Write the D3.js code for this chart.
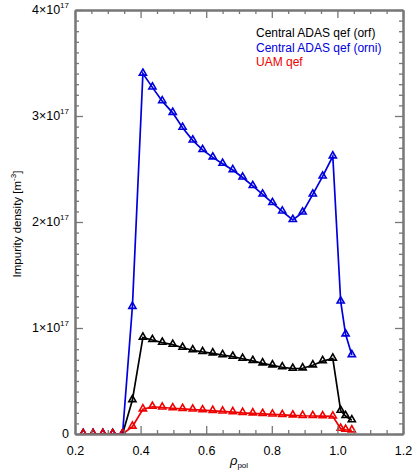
<!DOCTYPE html>
<html><head><meta charset="utf-8">
<script src="https://cdn.jsdelivr.net/npm/d3@7"></script>
<style>body{margin:0;background:#fff}svg{display:block;font-family:"Liberation Sans",Arial,sans-serif}</style>
</head><body><svg id="c" width="413" height="471"></svg>
<script>
const xVals = [0.225,0.255,0.285,0.315,0.345,0.375,0.407,0.436,0.466,0.498,0.528,0.559,0.589,0.620,0.650,0.681,0.711,0.742,0.772,0.802,0.832,0.864,0.894,0.925,0.955,0.986,1.010,1.025,1.044];
const orni = [0,0,0,0,0,1.20,3.40,3.27,3.14,3.03,2.89,2.77,2.68,2.61,2.55,2.49,2.42,2.34,2.26,2.18,2.10,2.02,2.09,2.26,2.43,2.62,1.25,0.94,0.745];
const orf  = [0,0,0,0,0,0.32,0.91,0.887,0.862,0.843,0.814,0.79,0.774,0.761,0.745,0.73,0.71,0.69,0.667,0.648,0.63,0.616,0.62,0.648,0.688,0.712,0.22,0.17,0.13];
const uam  = [0,0,0,0,0,0.07,0.233,0.257,0.250,0.243,0.237,0.231,0.225,0.219,0.213,0.207,0.200,0.195,0.190,0.185,0.180,0.176,0.172,0.170,0.168,0.166,0.05,0.04,0.035];
const seriesNames = ["Central ADAS qef (orf)","Central ADAS qef (orni)","UAM qef"];
const seriesColors = ["#000000","#0000dd","#ee0000"];
const xTicks = [0.2,0.4,0.6,0.8,1.0,1.2];
const xTickLabels = ["0.2","0.4","0.6","0.8","1.0","1.2"];
const yTicks = [0,1,2,3,4];
const SCALE = 1e17;

const W=413,H=471,m={l:75,r:10,t:10,b:37};
const svg=d3.select("#c");
const x=d3.scaleLinear().domain([0.2,1.2]).range([m.l,W-m.r]);
const y=d3.scaleLinear().domain([0,4*SCALE]).range([H-m.b,m.t]);
const axCol="#777";

svg.append("defs").append("clipPath").attr("id","plotclip").append("rect")
  .attr("x",m.l).attr("y",m.t).attr("width",W-m.l-m.r).attr("height",H-m.t-m.b);

const data=[orf,orni,uam];
const g=svg.append("g").attr("clip-path","url(#plotclip)");
data.forEach((vals,si)=>{
  const pts=xVals.map((xv,i)=>[xv,vals[i]*SCALE]);
  const col=seriesColors[si];
  g.append("path").datum(pts).attr("fill","none").attr("stroke",col).attr("stroke-width",1.7)
    .attr("d",d3.line().x(d=>x(d[0])).y(d=>y(d[1])));
  const tri=d3.symbol().type(d3.symbolTriangle).size(22);
  g.append("g").selectAll("path").data(pts).join("path")
    .attr("transform",d=>`translate(${x(d[0])},${y(d[1])-0.5})`)
    .attr("d",tri).attr("fill","none").attr("stroke",col).attr("stroke-width",1.6);
});

// axes
const xMinorVals=d3.range(0.25,1.2,0.05).filter(v=>Math.abs(v*5-Math.round(v*5))>0.01);
const axBottom=d3.axisBottom(x).tickValues(xTicks).tickFormat((d,i)=>xTickLabels[i]).tickSizeInner(-8).tickSizeOuter(0).tickPadding(12);
const axBottomMinor=d3.axisBottom(x).tickValues(xMinorVals).tickFormat("").tickSizeInner(-4).tickSizeOuter(0);
const axTop=d3.axisTop(x).tickValues(xTicks).tickFormat("").tickSizeInner(-8).tickSizeOuter(0);
const axTopMinor=d3.axisTop(x).tickValues(xMinorVals).tickFormat("").tickSizeInner(-4).tickSizeOuter(0);
const yMaj=yTicks.map(v=>v*SCALE);
const yMin=d3.range(1,40).filter(v=>v%10!==0).map(v=>v*SCALE/10);
const axLeft=d3.axisLeft(y).tickValues(yMaj).tickFormat("").tickSizeInner(-8).tickSizeOuter(0);
const axLeftMinor=d3.axisLeft(y).tickValues(yMin).tickFormat("").tickSizeInner(-4).tickSizeOuter(0);
const axRight=d3.axisRight(y).tickValues(yMaj).tickFormat("").tickSizeInner(-8).tickSizeOuter(0);
const axRightMinor=d3.axisRight(y).tickValues(yMin).tickFormat("").tickSizeInner(-4).tickSizeOuter(0);

function style(sel){
  sel.selectAll("path.domain").attr("stroke",axCol).attr("stroke-width",2);
  sel.selectAll(".tick line").attr("stroke",axCol).attr("stroke-width",1.3);
  sel.selectAll("text").attr("fill","#000").attr("font-size",12.5).attr("font-family","Liberation Sans, Arial, sans-serif");
}
style(svg.append("g").attr("transform",`translate(0,${H-m.b})`).call(axBottom));
style(svg.append("g").attr("transform",`translate(0,${H-m.b})`).call(axBottomMinor));
style(svg.append("g").attr("transform",`translate(0,${m.t})`).call(axTop));
style(svg.append("g").attr("transform",`translate(0,${m.t})`).call(axTopMinor));
style(svg.append("g").attr("transform",`translate(${m.l},0)`).call(axLeft));
style(svg.append("g").attr("transform",`translate(${m.l},0)`).call(axLeftMinor));
style(svg.append("g").attr("transform",`translate(${W-m.r},0)`).call(axRight));
style(svg.append("g").attr("transform",`translate(${W-m.r},0)`).call(axRightMinor));

// y tick labels
yTicks.forEach(v=>{
  const t=svg.append("text").attr("x",m.l-6).attr("y",y(v*SCALE)+4).attr("text-anchor","end").attr("font-size",12.5);
  if(v===0){t.text("0");}
  else{
    t.append("tspan").text(v+"×10");
    t.append("tspan").attr("dy",-6).attr("font-size",8).text("17");
  }
});

// axis titles
const yl=svg.append("text").attr("transform",`translate(21,${(m.t+H-m.b)/2+2}) rotate(-90)`).attr("text-anchor","middle").attr("font-size",11.5);
yl.append("tspan").text("Impurity density [m");
yl.append("tspan").attr("dy",-5).attr("font-size",8).text("-3");
yl.append("tspan").attr("dy",5).text("]");
const xl=svg.append("text").attr("x",x(0.7)).attr("y",H-6).attr("text-anchor","middle").attr("font-size",13).attr("font-style","italic");
xl.append("tspan").text("ρ");
xl.append("tspan").attr("dy",3).attr("font-size",8).attr("font-style","normal").text("pol");

// legend
seriesNames.forEach((n,i)=>{
  svg.append("text").attr("x",256).attr("y",37+i*14.5).attr("font-size",12).attr("fill",seriesColors[i]).text(n);
});
</script></body></html>
